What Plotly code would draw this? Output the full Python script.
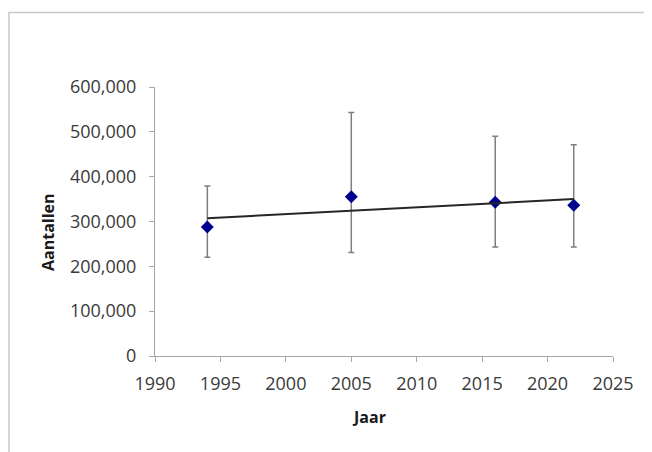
import numpy as np
import plotly.graph_objects as go

years = [1994, 2005, 2016, 2022]
counts = [288000, 355000, 343000, 336000]
upper = [379000, 543000, 490000, 471000]
lower = [220000, 231000, 243000, 243000]

err_plus = [u - c for u, c in zip(upper, counts)]
err_minus = [c - l for c, l in zip(counts, lower)]

slope, intercept = np.polyfit(years, counts, 1)
trend_x = [min(years), max(years)]
trend_y = [slope * x + intercept for x in trend_x]

W, H = 652, 452
OFF = 8  # page body margin
# target plot area in screen pixels
PX0, PX1, PY0, PY1 = 155, 613, 87, 356
L, T = PX0 - OFF, PY0 - OFF
R, B = W - (PX1 - OFF), H - (PY1 - OFF)
pw, ph = PX1 - PX0, PY1 - PY0


def px(sx):
    return (sx - PX0) / pw


def py(sy):
    return (PY1 - sy) / ph


fig = go.Figure()
fig.add_trace(go.Scatter(
    x=years, y=counts, mode="markers",
    marker=dict(symbol="diamond", size=10, color="#00008f"),
    error_y=dict(type="data", symmetric=False, array=err_plus, arrayminus=err_minus,
                 color="#7f7f7f", thickness=1.5, width=3),
    showlegend=False,
))
fig.add_trace(go.Scatter(
    x=trend_x, y=trend_y, mode="lines",
    line=dict(color="#262626", width=2), showlegend=False,
))

font_fam = "Open Sans, Liberation Sans, sans-serif"
tick_font = dict(size=18, color="#3a3a3a", family=font_fam)
fig.update_layout(
    width=W, height=H,
    margin=dict(l=L, r=R, t=T, b=B),
    paper_bgcolor="white", plot_bgcolor="white",
    font=dict(family=font_fam, color="#3a3a3a", size=18),
    xaxis=dict(range=[1990, 2025], tickvals=list(range(1990, 2026, 5)),
               showgrid=False, zeroline=False, showline=True, linecolor="#a6a6a6", linewidth=1,
               ticks="outside", ticklen=5, tickcolor="#a6a6a6",
               ticklabelstandoff=6, tickfont=tick_font),
    yaxis=dict(range=[0, 600000], tickvals=list(range(0, 600001, 100000)),
               tickformat=",d",
               showgrid=False, zeroline=False, showline=True, linecolor="#a6a6a6", linewidth=1,
               ticks="outside", ticklen=5, tickcolor="#a6a6a6",
               ticklabelstandoff=9, tickfont=tick_font),
    annotations=[
        dict(text="<b>Jaar</b>", x=px(369), y=py(417), xref="paper", yref="paper",
             showarrow=False, font=dict(size=16, color="#1a1a1a"), xanchor="center", yanchor="middle"),
        dict(text="<b>Aantallen</b>", x=px(48), y=py(232), xref="paper", yref="paper",
             showarrow=False, textangle=-90, font=dict(size=16, color="#1a1a1a"),
             xanchor="center", yanchor="middle"),
    ],
    shapes=[
        dict(type="rect", xref="paper", yref="paper",
             x0=px(9), x1=px(670), y0=py(480), y1=py(12.5),
             line=dict(color="#c8c8c8", width=1.5), layer="below"),
    ],
)

fig.write_html("out.html")
